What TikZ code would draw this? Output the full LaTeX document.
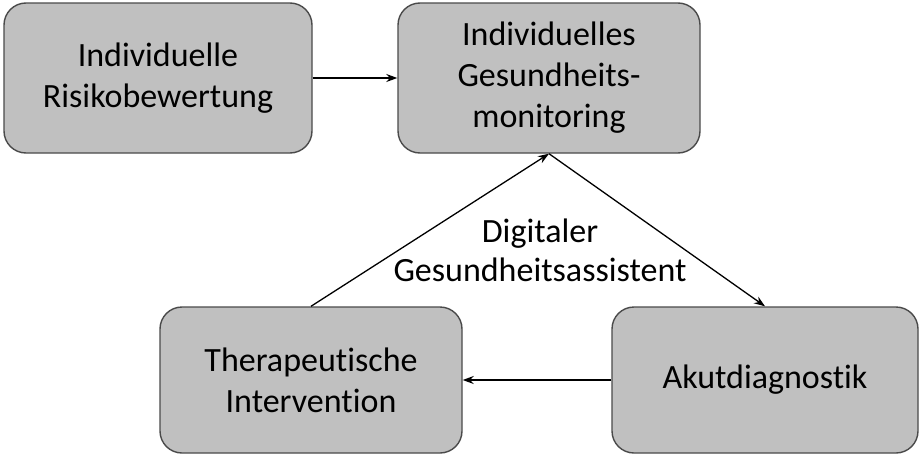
\documentclass[tikz,border=0pt]{standalone}
\usepackage{fontspec}
\setmainfont[Ligatures=NoCommon]{Carlito}
\usetikzlibrary{arrows.meta}
\definecolor{boxfill}{HTML}{C0C0C0}
\definecolor{boxline}{HTML}{4A4A4A}
\begin{document}
\begin{tikzpicture}[x=1pt,y=-1pt,
  box/.style={draw=boxline, line width=1.4pt, fill=boxfill, rounded corners=22pt,
    inner sep=0pt, align=center, font=\fontsize{34}{41}\selectfont},
  conn/.style={line width=1.3pt, -{Stealth[length=11pt,width=8pt]}}]
\useasboundingbox (0,0) rectangle (922,458);
\node[box, minimum width=308pt, minimum height=150pt] (b1) at (158,78) {Individuelle\\Risikobewertung};
\node[box, minimum width=302pt, minimum height=150pt] (b2) at (549,78) {Individuelles\\Gesundheits-\\monitoring};
\node[box, minimum width=302pt, minimum height=146pt] (b3) at (311,380) {Therapeutische\\Intervention};
\node[box, minimum width=306pt, minimum height=146pt] (b4) at (765,380) {Akutdiagnostik};
\node[align=center, font=\fontsize{34}{39}\selectfont] (lbl) at (540,250) {Digitaler\\Gesundheitsassistent};
\draw[conn] (b1.east) -- (b2.west);
\draw[conn] (b2.south) -- (b4.north);
\draw[conn] (b4.west) -- (b3.east);
\draw[conn] (b3.north) -- (b2.south);
\end{tikzpicture}
\end{document}
